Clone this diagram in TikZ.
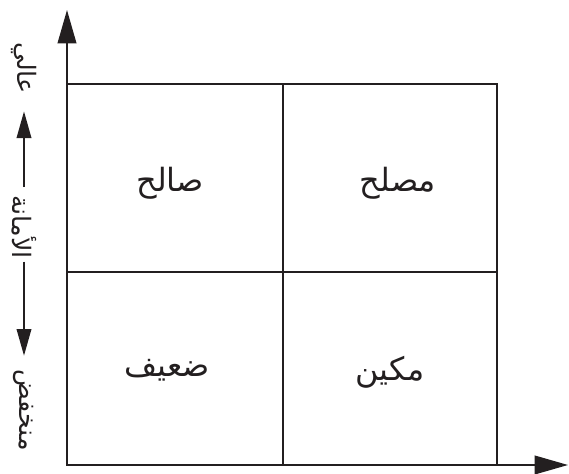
\documentclass[tikz,border=0pt]{standalone}
\usepackage{fontspec}
\newfontfamily\arabicfont[Script=Arabic]{DejaVu Sans}
\TeXXeTstate=1
\usetikzlibrary{arrows.meta, positioning}
\definecolor{zink}{RGB}{35, 31, 32}

\begin{document}
\begin{tikzpicture}[x=0.75pt, y=0.75pt,
  cell/.style={font=\arabicfont\fontsize{24}{28}\selectfont, text=zink, inner sep=0pt},
  side/.style={font=\arabicfont\fontsize{19}{23}\selectfont, text=zink, rotate=-90, inner sep=2pt},
  frame/.style={line width=1.3pt, draw=zink},
  axis/.style={-{Triangle[length=25pt, width=14pt]}, line width=1.3pt, draw=zink},
  arr/.style={-{Triangle[length=20pt, width=11pt]}, line width=1.1pt, draw=zink}
]
\useasboundingbox (0,0) rectangle (569,474);

% Frame
\coordinate (o)  at (67,9);
\coordinate (tr) at (497,390);
\draw[frame] (o) rectangle (tr);
\draw[frame] (283,9) -- (283,390);
\draw[frame] (67,202) -- (497,202);

% Axes
\coordinate (ytip) at (67,464);
\coordinate (xtip) at (568,9);
\draw[axis] (o) -- (ytip);
\draw[axis] (o) -- (xtip);

% Cells
\node[cell] (saleh)  at (170,291) {\beginR صالح\endR};
\node[cell] (musleh) at (398,291) {\beginR مصلح\endR};
\node[cell] (daeef)  at (167,104) {\beginR ضعيف\endR};
\node[cell] (makeen) at (390,102) {\beginR مكين\endR};

% Side label
\node[side] (aali)  at (24,406) {\beginR عالي\endR};
\node[side] (amana) at (24,247) {\beginR الأمانة\endR};
\node[side] (low)   at (24,64)  {\beginR منخفض\endR};
\draw[arr, shorten <=4pt, shorten >=11pt] (amana) -- (aali);
\draw[arr, shorten <=0pt, shorten >=8pt]  (amana) -- (low);
\end{tikzpicture}
\end{document}
